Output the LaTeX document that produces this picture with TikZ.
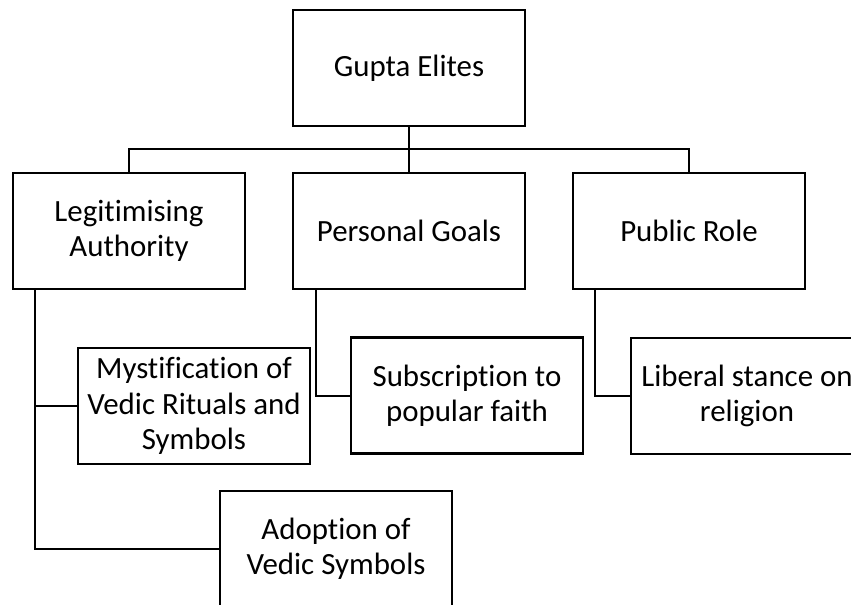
\documentclass[tikz,border=0pt]{standalone}
\usepackage{fontspec}
\setmainfont{Carlito}[Ligatures=NoCommon]
\usetikzlibrary{calc}
\begin{document}
\begin{tikzpicture}[x=1bp,y=-1bp,
  box/.style={draw, line width=2.5bp, minimum width=232bp, minimum height=116bp,
    inner sep=0pt, align=center, font=\fontsize{31}{35.5}\selectfont},
  conn/.style={line width=2bp}]
\useasboundingbox (0,0) rectangle (851,605);
\clip (0,0) rectangle (851,605);
\fill[white] (0,0) rectangle (851,605);
\node[box] (top) at (409,68) {Gupta Elites};
\node[box] (legit) at (129,231) {Legitimising\\Authority};
\node[box] (pers) at (409,231) {Personal Goals};
\node[box] (pub) at (689,231) {Public Role};
\node[box] (myst) at (194,406) {Mystification of\\Vedic Rituals and\\Symbols};
\node[box] (subs) at (467,395.5) {Subscription to\\popular faith};
\node[box] (lib) at (747,396) {Liberal stance on\\religion};
\node[box] (adop) at (336,549) {Adoption of\\Vedic Symbols};
\coordinate (bus) at (409,149);
\draw[conn] (top.south) -- (pers.north);
\draw[conn] (legit.north) |- (bus) -| (pub.north);
\coordinate (lx) at ($(legit.south west)+(23,0)$);
\coordinate (px) at ($(pers.south west)+(24,0)$);
\coordinate (ux) at ($(pub.south west)+(23,0)$);
\draw[conn] (lx) |- (adop.west);
\draw[conn] (lx |- myst.west) -- (myst.west);
\draw[conn] (px) |- (subs.west);
\draw[conn] (ux) |- (lib.west);
\end{tikzpicture}
\end{document}
